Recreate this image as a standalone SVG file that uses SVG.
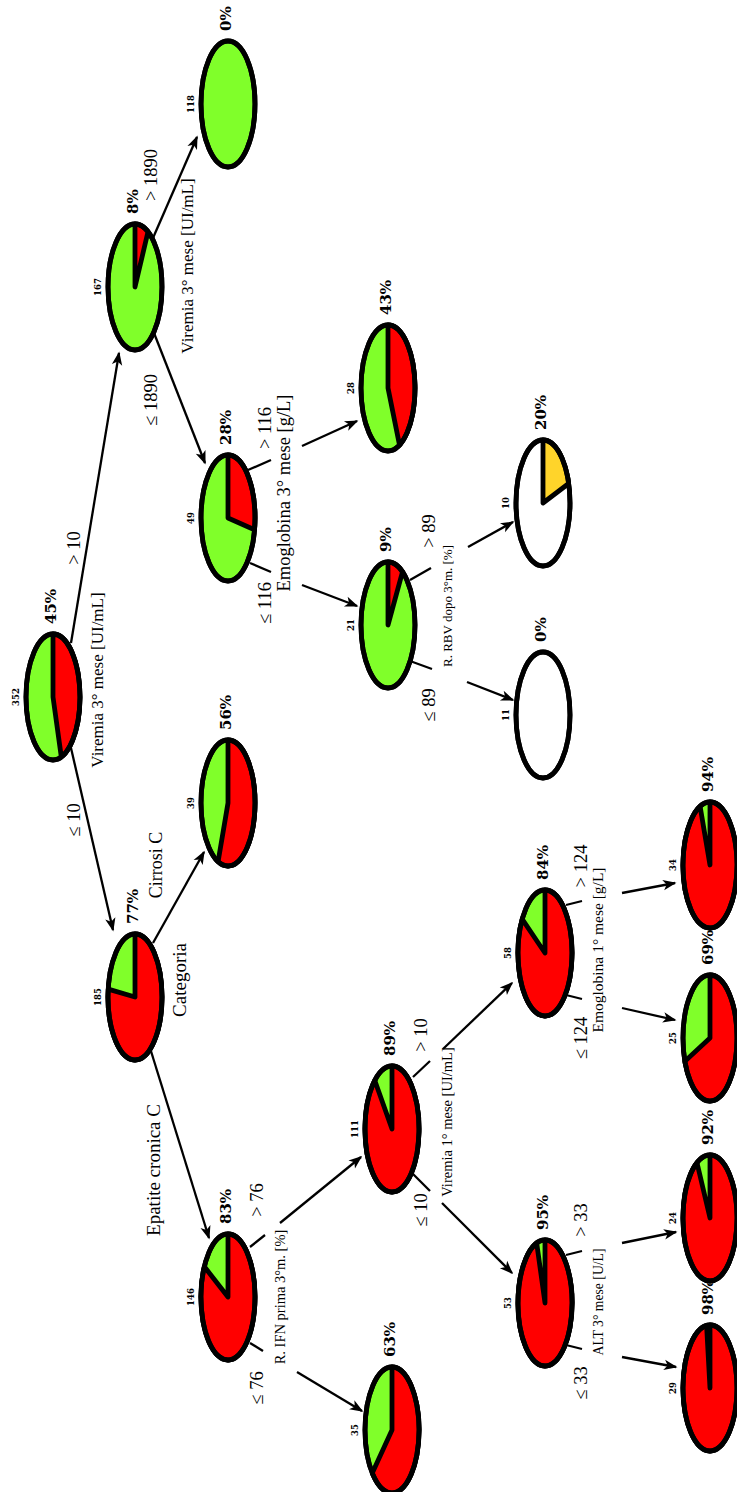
<svg xmlns="http://www.w3.org/2000/svg" width="737" height="1492" viewBox="0 0 737 1492">
<style>
  .base, .sl { stroke: #000; stroke-width: 4.8; stroke-linejoin: round; }
  .rim { fill: none; stroke: #000; stroke-width: 4.8; }
  .g { fill: #80ff2a; }
  .r { fill: #ff0000; }
  .w { fill: #ffffff; }
  .y { fill: #ffd42a; }
  .cnt { font-family: "DejaVu Serif", serif; font-weight: bold; font-size: 8.5px; text-anchor: middle; fill: #000; }
  .pct { font-family: "DejaVu Serif", serif; font-weight: bold; font-size: 15px; fill: #000; }
  .lab { font-family: "Liberation Serif", "DejaVu Serif", serif; text-anchor: middle; fill: #000; }
  .br { font-size: 18.5px; }
  .edges line { stroke: #000; stroke-width: 2.3; }
</style>
<defs>
  <marker id="ah" viewBox="-13 -6 15 12" refX="0" refY="0" markerWidth="15" markerHeight="12" markerUnits="userSpaceOnUse" orient="auto">
    <path d="M1.5,0 L-12,-5.2 L-8.5,0 L-12,5.2 Z" fill="#000"/>
  </marker>
</defs>

<!-- connectors -->
<g id="edges" class="edges">
  <line x1="71" y1="643" x2="119" y2="353" marker-end="url(#ah)"/>
  <line x1="71" y1="748" x2="113" y2="930" marker-end="url(#ah)"/>
  <line x1="153" y1="238" x2="197" y2="137" marker-end="url(#ah)"/>
  <line x1="154" y1="333" x2="205" y2="463" marker-end="url(#ah)"/>
  <line x1="153" y1="943" x2="204" y2="852" marker-end="url(#ah)"/>
  <line x1="150" y1="1048" x2="209" y2="1238" marker-end="url(#ah)"/>

  <line x1="248" y1="470" x2="271" y2="460"/>
  <line x1="302" y1="446" x2="357" y2="421" marker-end="url(#ah)"/>
  <line x1="250" y1="563" x2="271" y2="572"/>
  <line x1="302" y1="585" x2="357" y2="606" marker-end="url(#ah)"/>

  <line x1="410" y1="580" x2="431" y2="568"/>
  <line x1="468" y1="547" x2="513" y2="522" marker-end="url(#ah)"/>
  <line x1="410" y1="661" x2="432" y2="669"/>
  <line x1="467" y1="682" x2="513" y2="700" marker-end="url(#ah)"/>

  <line x1="250" y1="1247" x2="265" y2="1235"/>
  <line x1="280" y1="1223" x2="361" y2="1157" marker-end="url(#ah)"/>
  <line x1="250" y1="1343" x2="263" y2="1351"/>
  <line x1="297" y1="1372" x2="362" y2="1411" marker-end="url(#ah)"/>

  <line x1="413" y1="1077" x2="430" y2="1061"/>
  <line x1="443" y1="1049" x2="512" y2="983" marker-end="url(#ah)"/>
  <line x1="413" y1="1174" x2="430" y2="1191"/>
  <line x1="442" y1="1203" x2="512" y2="1273" marker-end="url(#ah)"/>

  <line x1="566" y1="905" x2="582" y2="901"/>
  <line x1="622" y1="893" x2="675" y2="883" marker-end="url(#ah)"/>
  <line x1="566" y1="995" x2="582" y2="999"/>
  <line x1="622" y1="1008" x2="675" y2="1020" marker-end="url(#ah)"/>

  <line x1="566" y1="1255" x2="582" y2="1251"/>
  <line x1="622" y1="1243" x2="676" y2="1232" marker-end="url(#ah)"/>
  <line x1="566" y1="1345" x2="582" y2="1349"/>
  <line x1="622" y1="1357" x2="676" y2="1367" marker-end="url(#ah)"/>
</g>

<!-- split and branch labels -->
<g id="labels">
  <text class="lab" font-size="17" transform="translate(103,680) rotate(-90)">Viremia 3° mese [UI/mL]</text>
  <text class="lab br" transform="translate(80,548) rotate(-90)">&gt; 10</text>
  <text class="lab br" transform="translate(80,820) rotate(-90)">≤ 10</text>

  <text class="lab" font-size="17" transform="translate(193,266) rotate(-90)">Viremia 3° mese [UI/mL]</text>
  <text class="lab br" transform="translate(157,175) rotate(-90)">&gt; 1890</text>
  <text class="lab br" transform="translate(157,400) rotate(-90)">≤ 1890</text>

  <text class="lab" font-size="18.5" transform="translate(290,493) rotate(-90)">Emoglobina 3° mese [g/L]</text>
  <text class="lab br" transform="translate(271,428) rotate(-90)">&gt; 116</text>
  <text class="lab br" transform="translate(271,603) rotate(-90)">≤ 116</text>

  <text class="lab" font-size="13" transform="translate(452,606) rotate(-90)">R. RBV dopo 3°m. [%]</text>
  <text class="lab br" transform="translate(435,531) rotate(-90)">&gt; 89</text>
  <text class="lab br" transform="translate(435,705) rotate(-90)">≤ 89</text>

  <text class="lab" font-size="19" transform="translate(186,980) rotate(-90)">Categoria</text>
  <text class="lab" font-size="18" transform="translate(162,865) rotate(-90)">Cirrosi C</text>
  <text class="lab" font-size="19" transform="translate(160,1170) rotate(-90)">Epatite cronica C</text>

  <text class="lab" font-size="14.5" transform="translate(285,1297) rotate(-90)">R. IFN prima 3°m. [%]</text>
  <text class="lab br" transform="translate(263,1200) rotate(-90)">&gt; 76</text>
  <text class="lab br" transform="translate(263,1388) rotate(-90)">≤ 76</text>

  <text class="lab" font-size="14.5" transform="translate(452,1122) rotate(-90)">Viremia 1° mese [UI/mL]</text>
  <text class="lab br" transform="translate(427,1035) rotate(-90)">&gt; 10</text>
  <text class="lab br" transform="translate(427,1210) rotate(-90)">≤ 10</text>

  <text class="lab" font-size="15.5" transform="translate(603,950) rotate(-90)">Emoglobina 1° mese [g/L]</text>
  <text class="lab br" transform="translate(587,866) rotate(-90)">&gt; 124</text>
  <text class="lab br" transform="translate(587,1038) rotate(-90)">≤ 124</text>

  <text class="lab" font-size="13.7" transform="translate(603,1302) rotate(-90)">ALT 3° mese [U/L]</text>
  <text class="lab br" transform="translate(587,1220) rotate(-90)">&gt; 33</text>
  <text class="lab br" transform="translate(587,1383) rotate(-90)">≤ 33</text>
</g>

<!-- nodes: pie-shaped ellipses, coloured share starts at the top and runs clockwise -->
<g id="n352" transform="translate(53,697)">
  <ellipse class="base g" rx="27" ry="63"/>
  <path class="sl r" d="M0,0 L0,-63 A27,63 0 0,1 8.3,59.9 Z"/>
  <ellipse class="rim" rx="27" ry="63"/>
  <text class="cnt" transform="translate(-34,0) rotate(-90)">352</text>
  <text class="pct" transform="translate(3,-73) rotate(-90)">45%</text>
</g>
<g id="n167" transform="translate(135,287)">
  <ellipse class="base g" rx="27" ry="63"/>
  <path class="sl r" d="M0,0 L0,-63 A27,63 0 0,1 13,-55.2 Z"/>
  <ellipse class="rim" rx="27" ry="63"/>
  <text class="cnt" transform="translate(-34,0) rotate(-90)">167</text>
  <text class="pct" transform="translate(3,-73) rotate(-90)">8%</text>
</g>
<g id="n118" transform="translate(228,104)">
  <ellipse class="base g" rx="27" ry="63"/>
  <ellipse class="rim" rx="27" ry="63"/>
  <text class="cnt" transform="translate(-34,0) rotate(-90)">118</text>
  <text class="pct" transform="translate(3,-73) rotate(-90)">0%</text>
</g>
<g id="n49" transform="translate(228,518)">
  <ellipse class="base g" rx="27" ry="63"/>
  <path class="sl r" d="M0,0 L0,-63 A27,63 0 0,1 26.5,11.8 Z"/>
  <ellipse class="rim" rx="27" ry="63"/>
  <text class="cnt" transform="translate(-34,0) rotate(-90)">49</text>
  <text class="pct" transform="translate(3,-73) rotate(-90)">28%</text>
</g>
<g id="n28" transform="translate(388,388)">
  <ellipse class="base g" rx="27" ry="63"/>
  <path class="sl r" d="M0,0 L0,-63 A27,63 0 0,1 11.5,57 Z"/>
  <ellipse class="rim" rx="27" ry="63"/>
  <text class="cnt" transform="translate(-34,0) rotate(-90)">28</text>
  <text class="pct" transform="translate(3,-73) rotate(-90)">43%</text>
</g>
<g id="n21" transform="translate(388,625)">
  <ellipse class="base g" rx="27" ry="63"/>
  <path class="sl r" d="M0,0 L0,-63 A27,63 0 0,1 14.5,-53.2 Z"/>
  <ellipse class="rim" rx="27" ry="63"/>
  <text class="cnt" transform="translate(-34,0) rotate(-90)">21</text>
  <text class="pct" transform="translate(3,-73) rotate(-90)">9%</text>
</g>
<g id="n10" transform="translate(543,503)">
  <ellipse class="base w" rx="27" ry="63"/>
  <path class="sl y" d="M0,0 L0,-63 A27,63 0 0,1 25.7,-19.5 Z"/>
  <ellipse class="rim" rx="27" ry="63"/>
  <text class="cnt" transform="translate(-34,0) rotate(-90)">10</text>
  <text class="pct" transform="translate(3,-73) rotate(-90)">20%</text>
</g>
<g id="n11" transform="translate(543,715)">
  <ellipse class="base w" rx="27" ry="63"/>
  <ellipse class="rim" rx="27" ry="63"/>
  <text class="cnt" transform="translate(-34,0) rotate(-90)">11</text>
  <text class="pct" transform="translate(3,-73) rotate(-90)">0%</text>
</g>
<g id="n185" transform="translate(135,997)">
  <ellipse class="base g" rx="27" ry="63"/>
  <path class="sl r" d="M0,0 L0,-63 A27,63 0 1,1 -26.8,-7.9 Z"/>
  <ellipse class="rim" rx="27" ry="63"/>
  <text class="cnt" transform="translate(-34,0) rotate(-90)">185</text>
  <text class="pct" transform="translate(3,-73) rotate(-90)">77%</text>
</g>
<g id="n39" transform="translate(228,803)">
  <ellipse class="base g" rx="27" ry="63"/>
  <path class="sl r" d="M0,0 L0,-63 A27,63 0 1,1 -9.9,58.6 Z"/>
  <ellipse class="rim" rx="27" ry="63"/>
  <text class="cnt" transform="translate(-34,0) rotate(-90)">39</text>
  <text class="pct" transform="translate(3,-73) rotate(-90)">56%</text>
</g>
<g id="n146" transform="translate(228,1297)">
  <ellipse class="base g" rx="27" ry="63"/>
  <path class="sl r" d="M0,0 L0,-63 A27,63 0 1,1 -23.7,-30.4 Z"/>
  <ellipse class="rim" rx="27" ry="63"/>
  <text class="cnt" transform="translate(-34,0) rotate(-90)">146</text>
  <text class="pct" transform="translate(3,-73) rotate(-90)">83%</text>
</g>
<g id="n35" transform="translate(392,1430)">
  <ellipse class="base g" rx="27" ry="63"/>
  <path class="sl r" d="M0,0 L0,-63 A27,63 0 1,1 -19.7,43.1 Z"/>
  <ellipse class="rim" rx="27" ry="63"/>
  <text class="cnt" transform="translate(-34,0) rotate(-90)">35</text>
  <text class="pct" transform="translate(3,-73) rotate(-90)">63%</text>
</g>
<g id="n111" transform="translate(392,1129)">
  <ellipse class="base g" rx="27" ry="63"/>
  <path class="sl r" d="M0,0 L0,-63 A27,63 0 1,1 -17.2,-48.5 Z"/>
  <ellipse class="rim" rx="27" ry="63"/>
  <text class="cnt" transform="translate(-34,0) rotate(-90)">111</text>
  <text class="pct" transform="translate(3,-73) rotate(-90)">89%</text>
</g>
<g id="n58" transform="translate(545,953)">
  <ellipse class="base g" rx="27" ry="63"/>
  <path class="sl r" d="M0,0 L0,-63 A27,63 0 1,1 -22.8,-33.8 Z"/>
  <ellipse class="rim" rx="27" ry="63"/>
  <text class="cnt" transform="translate(-34,0) rotate(-90)">58</text>
  <text class="pct" transform="translate(3,-73) rotate(-90)">84%</text>
</g>
<g id="n53" transform="translate(545,1303)">
  <ellipse class="base g" rx="27" ry="63"/>
  <path class="sl r" d="M0,0 L0,-63 A27,63 0 1,1 -8.3,-59.9 Z"/>
  <ellipse class="rim" rx="27" ry="63"/>
  <text class="cnt" transform="translate(-34,0) rotate(-90)">53</text>
  <text class="pct" transform="translate(3,-73) rotate(-90)">95%</text>
</g>
<g id="n34" transform="translate(710,865)">
  <ellipse class="base g" rx="27" ry="63"/>
  <path class="sl r" d="M0,0 L0,-63 A27,63 0 1,1 -9.9,-58.6 Z"/>
  <ellipse class="rim" rx="27" ry="63"/>
  <text class="cnt" transform="translate(-34,0) rotate(-90)">34</text>
  <text class="pct" transform="translate(3,-73) rotate(-90)">94%</text>
</g>
<g id="n25" transform="translate(710,1038)">
  <ellipse class="base g" rx="27" ry="63"/>
  <path class="sl r" d="M0,0 L0,-63 A27,63 0 1,1 -25.1,23.2 Z"/>
  <ellipse class="rim" rx="27" ry="63"/>
  <text class="cnt" transform="translate(-34,0) rotate(-90)">25</text>
  <text class="pct" transform="translate(3,-73) rotate(-90)">69%</text>
</g>
<g id="n24" transform="translate(710,1218)">
  <ellipse class="base g" rx="27" ry="63"/>
  <path class="sl r" d="M0,0 L0,-63 A27,63 0 1,1 -13,-55.2 Z"/>
  <ellipse class="rim" rx="27" ry="63"/>
  <text class="cnt" transform="translate(-34,0) rotate(-90)">24</text>
  <text class="pct" transform="translate(3,-73) rotate(-90)">92%</text>
</g>
<g id="n29" transform="translate(710,1388)">
  <ellipse class="base g" rx="27" ry="63"/>
  <path class="sl r" d="M0,0 L0,-63 A27,63 0 1,1 -3.4,-62.5 Z"/>
  <ellipse class="rim" rx="27" ry="63"/>
  <text class="cnt" transform="translate(-34,0) rotate(-90)">29</text>
  <text class="pct" transform="translate(3,-73) rotate(-90)">98%</text>
</g>
</svg>
